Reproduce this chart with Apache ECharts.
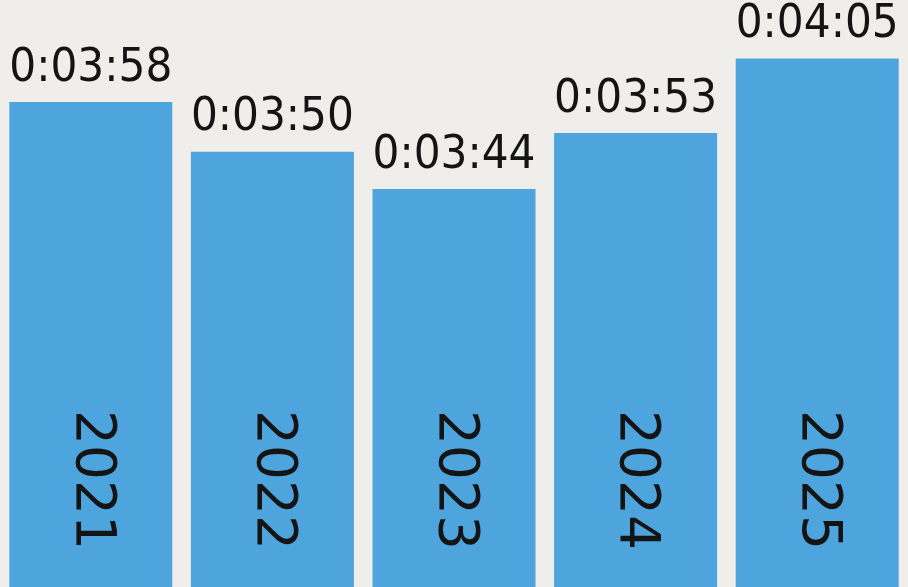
<!DOCTYPE html>
<html>
<head>
<meta charset="utf-8">
<script src="https://cdn.jsdelivr.net/npm/echarts@6/dist/echarts.min.js"></script>
<style>
html,body{margin:0;padding:0;background:#f0eeea;}
#c{width:908px;height:587px;}
</style>
</head>
<body>
<div id="c"></div>
<script>
// Data
var years = ['2021', '2022', '2023', '2024', '2025'];
var durations = ['0:03:58', '0:03:50', '0:03:44', '0:03:53', '0:04:05'];

function toSeconds(s) {
  var p = s.split(':').map(Number);
  return p[0] * 3600 + p[1] * 60 + p[2];
}
function fmt(sec) {
  var h = Math.floor(sec / 3600), m = Math.floor((sec % 3600) / 60), s = Math.round(sec % 60);
  return h + ':' + String(m).padStart(2, '0') + ':' + String(s).padStart(2, '0');
}
var seconds = durations.map(toSeconds);

var chart = echarts.init(document.getElementById('c'));
chart.setOption({
  backgroundColor: '#f0eeea',
  animation: false,
  grid: { left: -3, right: -3, top: 0, bottom: 0 },
  xAxis: {
    type: 'category',
    data: years,
    axisLine: { show: false },
    axisTick: { show: false },
    axisLabel: { show: false }
  },
  yAxis: {
    type: 'value',
    min: 160,
    max: 254.4,
    show: false,
    splitLine: { show: false }
  },
  series: [
    {
      type: 'bar',
      data: seconds,
      barWidth: 163,
      itemStyle: { color: '#4ea5de' },
      label: {
        show: true,
        position: 'top',
        distance: 10,
        color: '#141414',
        fontFamily: 'DejaVu Sans Condensed, DejaVu Sans',
        fontSize: 47,
        formatter: function (p) { return fmt(p.value); }
      }
    },
    {
      type: 'bar',
      data: seconds,
      barWidth: 163,
      barGap: '-100%',
      silent: true,
      itemStyle: { color: 'rgba(0,0,0,0)' },
      label: {
        show: true,
        position: 'insideBottom',
        rotate: -90,
        align: 'right',
        verticalAlign: 'middle',
        distance: 37,
        color: '#141414',
        fontFamily: 'DejaVu Sans',
        fontSize: 55,
        formatter: '{b}'
      }
    }
  ]
});
</script>
</body>
</html>
